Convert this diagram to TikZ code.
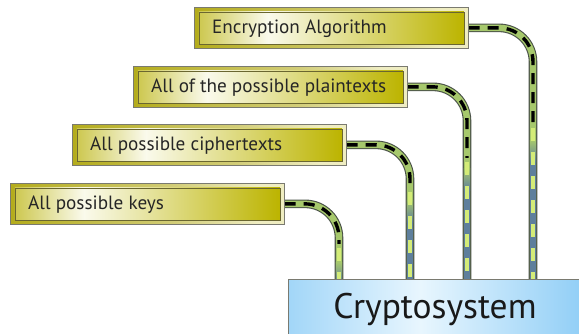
\documentclass[tikz,border=0pt]{standalone}
\usepackage{fontspec}
\setmainfont{PT Sans}
\usetikzlibrary{calc}
\definecolor{olv}{HTML}{BCB400}
\definecolor{olvl}{HTML}{CDC850}
\definecolor{hilite}{HTML}{FAFAEC}
\definecolor{cream}{HTML}{EFEDC2}
\definecolor{frameolv}{HTML}{B4AC1C}
\definecolor{skyl}{HTML}{A2D6F8}
\definecolor{skym}{HTML}{E8F6FE}
\definecolor{skyr}{HTML}{8ECDF6}
\definecolor{pipeg}{HTML}{A6C86C}
\definecolor{pipeb}{HTML}{5E7F9C}
\definecolor{pipeo}{HTML}{4A5248}
\definecolor{dashg}{HTML}{D4EC78}
\definecolor{edgegray}{HTML}{7A7A70}
\definecolor{inneredge}{HTML}{6A6630}
\definecolor{framemid}{HTML}{D2CD78}
\pgfdeclarehorizontalshading{boxshade}{100bp}{color(0bp)=(olvl); color(25bp)=(olvl); color(38bp)=(hilite); color(75bp)=(olv); color(100bp)=(olv)}
\pgfdeclarehorizontalshading{frameshade}{100bp}{color(0bp)=(frameolv); color(25bp)=(frameolv); color(55bp)=(framemid); color(70bp)=(cream); color(100bp)=(cream)}
\pgfdeclarehorizontalshading{skyshade}{100bp}{color(0bp)=(skyl); color(25bp)=(skyl); color(47bp)=(skym); color(75bp)=(skyr); color(100bp)=(skyr)}
\pgfdeclarelayer{pipes}
\pgfsetlayers{pipes,main}
\tikzset{
  frame/.style={draw=edgegray, line width=0.7, shading=frameshade, minimum width=274, minimum height=41, inner sep=0, anchor=north west},
  innerbox/.style={draw=inneredge, line width=0.7, shading=boxshade, minimum width=265, minimum height=32, inner sep=0},
  boxtext/.style={font=\fontsize{19.2}{22}\selectfont, text=black!85, anchor=base west, inner sep=0},
  pipeout/.style={draw=pipeo, line width=8.6, rounded corners=34},
  pipein/.style={draw=pipeg, line width=6.4, rounded corners=34},
  blackdash/.style={draw=black, line width=3.4, dash pattern=on 11 off 8, rounded corners=34},
  greendash/.style={draw=dashg, line width=3.2, dash pattern=on 13 off 11},
}
\begin{document}
\begin{tikzpicture}[x=1pt,y=-1pt]
\useasboundingbox (0,0) rectangle (579,333);
% boxes
\foreach \n/\x/\y/\t in {b1/194/7/Encryption Algorithm, b2/133/66/All of the possible plaintexts, b3/72/124/All possible ciphertexts, b4/10/183/All possible keys}{
  \node[frame] (\n) at (\x,\y) {};
  \node[innerbox] (\n i) at (\n.center) {};
  \node[boxtext] (\n t) at ([xshift=18pt,yshift=-26.5pt]\n.north west) {\t};
}
\node[draw=edgegray, line width=0.8, shading=skyshade, anchor=north west, minimum width=300, minimum height=60, inner sep=0] (crypto) at (288,279) {};
\node[font=\fontsize{35.5}{40}\selectfont, text=black!90, inner sep=0, anchor=base] (cryptot) at (435,318) {Cryptosystem};
% pipes
\begin{pgfonlayer}{pipes}
\foreach \n/\X/\B/\G in {b1/533/123/140, b2/467/157/168, b3/410/187/200, b4/339/243/262}{
  \coordinate (c\n) at (\X,0);
  \draw[pipeout] (\n.east) -- (\n.east -| c\n) -- (c\n |- crypto.north);
  \draw[pipein] (\n.east) -- (\n.east -| c\n) -- (c\n |- crypto.north);
  \shade[top color=pipeg, bottom color=pipeb] (\X-3.2,\G) rectangle (\X+3.2,\G+22);
  \fill[pipeb] (\X-3.2,\G+22) rectangle (\X+3.2,279);
  \begin{scope}
    \clip (0,0) rectangle (579,\B);
    \draw[blackdash] (\n.east) -- (\n.east -| c\n) -- (c\n |- crypto.north);
  \end{scope}
  \draw[greendash] (\X,\B+5) -- (c\n |- crypto.north);
}
\end{pgfonlayer}
\end{tikzpicture}
\end{document}
